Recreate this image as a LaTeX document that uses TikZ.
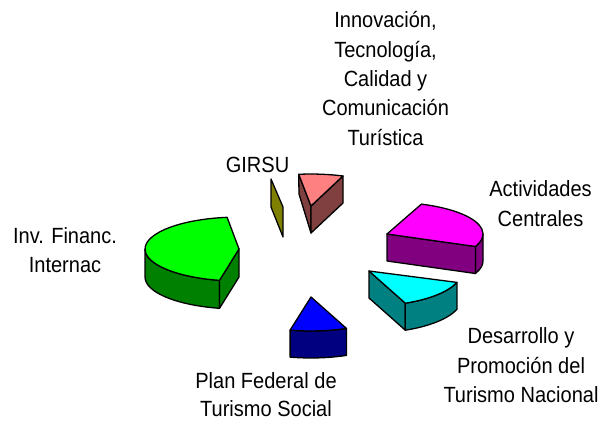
\documentclass[tikz,border=0pt]{standalone}
\usepackage{fontspec}
\newfontfamily\labfont[FakeStretch=0.91]{Liberation Sans}
\definecolor{gtop}{HTML}{00FF00}\definecolor{gside}{HTML}{008000}
\definecolor{olv}{HTML}{808000}
\definecolor{stop}{HTML}{FF8080}\definecolor{sside}{HTML}{804040}
\definecolor{mtop}{HTML}{FF00FF}\definecolor{mside}{HTML}{800080}
\definecolor{ctop}{HTML}{00FFFF}\definecolor{cside}{HTML}{008080}
\definecolor{btop}{HTML}{0000FF}\definecolor{bside}{HTML}{000080}
\begin{document}
\begin{tikzpicture}[x=1pt,y=-1pt,line join=round,
  face/.style={draw=black,line width=1.3pt},
  lbl/.style={anchor=base,inner sep=0pt,font=\labfont\fontsize{22}{26}\selectfont}]
\useasboundingbox (0,0) rectangle (609,421);
\fill[white] (0,0) rectangle (609,421);
% ---------- green: Inv. Financ. Internac
\coordinate (gA) at (239,249);
\draw[face,fill=gside] (145,249) arc[start angle=180,end angle=102,x radius=94,y radius=32]
  -- ++(0,28) arc[start angle=102,end angle=180,x radius=94,y radius=32] -- cycle;
\draw[face,fill=gside] (gA) -- (219.5,280.3) -- (219.5,308.3) -- (239,277) -- cycle;
\draw[face,fill=gtop] (gA) -- (227.1,217.3) arc[start angle=262.7,end angle=102,x radius=94,y radius=32] -- cycle;
% ---------- olive: GIRSU
\draw[face,fill=olv] (271,179) -- (283,207) -- (283,237) -- (271,207) -- cycle;
% ---------- salmon: Innovacion
\coordinate (sA) at (311,206);
\draw[face,fill=sside] (298.7,174.3) -- (299,194) -- (311,233) -- (sA) -- cycle;
\draw[face,fill=sside] (sA) -- (343,176) -- (343,203) -- (311,233) -- cycle;
\draw[face,fill=stop] (sA) -- (298.7,174.3) arc[start angle=262.4,end angle=290.1,x radius=93,y radius=32] -- cycle;
% ---------- magenta: Actividades Centrales
\coordinate (mA) at (387,234);
\draw[face,fill=mside] (483,234) arc[start angle=0,end angle=23,x radius=96,y radius=32]
  -- ++(0,27) arc[start angle=23,end angle=0,x radius=96,y radius=32] -- cycle;
\draw[face,fill=mside] (mA) -- (475.4,246.5) -- (475.4,273.5) -- (387,261) -- cycle;
\draw[face,fill=mtop] (mA) -- (421.4,204.1) arc[start angle=-69,end angle=23,x radius=96,y radius=32] -- cycle;
% ---------- cyan: Desarrollo y Promocion
\coordinate (cA) at (369,271);
\draw[face,fill=cside] (cA) -- (405.3,303.2) -- (405.3,330.2) -- (369,298) -- cycle;
\draw[face,fill=cside] (405.3,303.2) arc[start angle=67,end angle=19,x radius=93,y radius=35]
  -- ++(0,27) arc[start angle=19,end angle=67,x radius=93,y radius=35] -- cycle;
\draw[face,fill=ctop] (cA) -- (405.3,303.2) arc[start angle=67,end angle=19,x radius=93,y radius=35] -- cycle;
% ---------- blue: Plan Federal
\coordinate (bA) at (311,297);
\draw[face,fill=bside] (290.1,330.1) arc[start angle=103,end angle=67.6,x radius=93,y radius=34]
  -- ++(0,27) arc[start angle=67.6,end angle=103,x radius=93,y radius=34] -- cycle;
\draw[face,fill=btop] (bA) -- (290.1,330.1) arc[start angle=103,end angle=67.6,x radius=93,y radius=34] -- cycle;
% ---------- labels
\node[lbl] (i1) at (385.5,27.7) {Innovación,};
\node[lbl] (i2) at (385.5,57) {Tecnología,};
\node[lbl] (i3) at (385.5,86.3) {Calidad y};
\node[lbl] (i4) at (385.5,115.8) {Comunicación};
\node[lbl] (i5) at (385.5,145.5) {Turística};
\node[lbl] (gi) at (257.5,172) {GIRSU};
\node[lbl] (a1) at (540.5,196) {Actividades};
\node[lbl] (a2) at (540.5,226) {Centrales};
\node[lbl] (f1) at (65,243) {Inv. Financ.};
\node[lbl] (f2) at (65,272.3) {Internac};
\node[lbl] (d1) at (521,343.3) {Desarrollo y};
\node[lbl] (d2) at (521,373.3) {Promoción del};
\node[lbl] (d3) at (521,402.7) {Turismo Nacional};
\node[lbl] (p1) at (266,388.3) {Plan Federal de};
\node[lbl] (p2) at (266,416.7) {Turismo Social};
\end{tikzpicture}
\end{document}
